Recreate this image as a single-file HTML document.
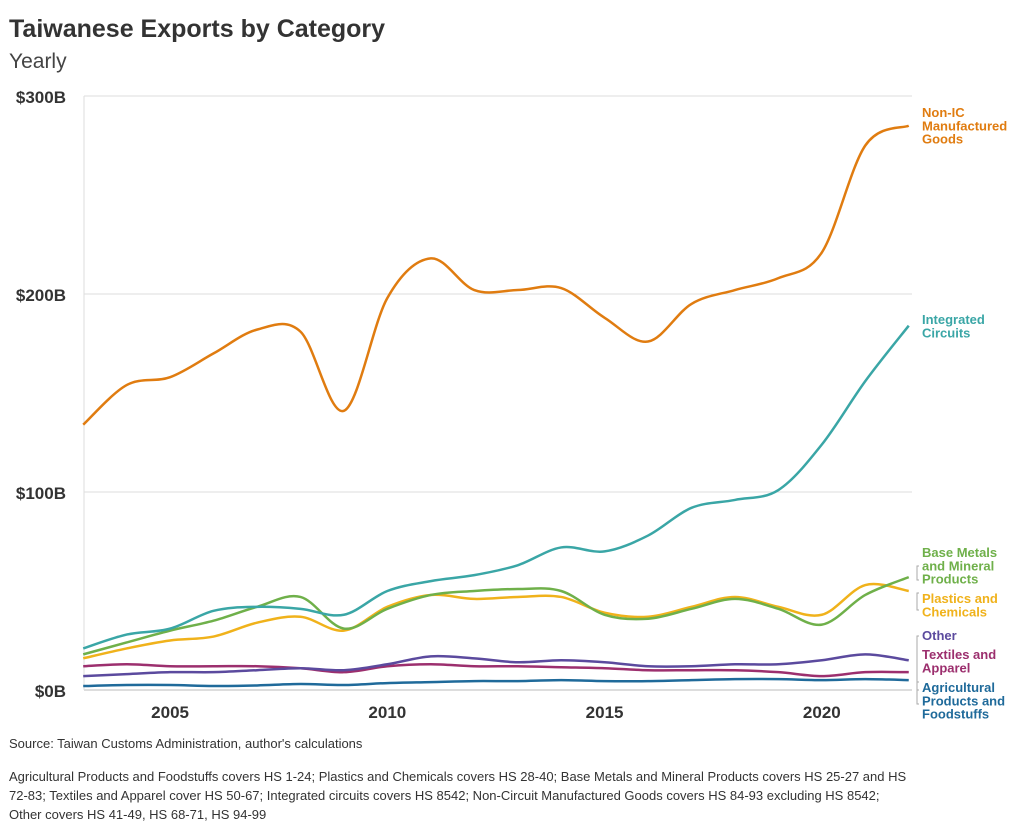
<!DOCTYPE html>
<html><head><meta charset="utf-8"><style>
body{margin:0;background:#fff;font-family:"Liberation Sans",sans-serif;}
svg text{font-family:"Liberation Sans",sans-serif;}
</style></head><body>
<svg id="c" width="1024" height="832" xmlns="http://www.w3.org/2000/svg">
<text x="9" y="37" font-size="25" font-weight="bold" fill="#333">Taiwanese Exports by Category</text>
<text x="9" y="68" font-size="21" fill="#444">Yearly</text>
<g id="grid"></g><g id="lines"></g><g id="labels"></g>
<text x="9" y="748" font-size="13" fill="#333">Source: Taiwan Customs Administration, author's calculations</text>
<text font-size="13" fill="#333"><tspan x="9" y="781">Agricultural Products and Foodstuffs covers HS 1-24; Plastics and Chemicals covers HS 28-40; Base Metals and Mineral Products covers HS 25-27 and HS</tspan><tspan x="9" y="800">72-83; Textiles and Apparel cover HS 50-67; Integrated circuits covers HS 8542; Non-Circuit Manufactured Goods covers HS 84-93 excluding HS 8542;</tspan><tspan x="9" y="819">Other covers HS 41-49, HS 68-71, HS 94-99</tspan></text>
</svg>
<script>
const years=[2003,2004,2005,2006,2007,2008,2009,2010,2011,2012,2013,2014,2015,2016,2017,2018,2019,2020,2021,2022];
const yTicks=[0,100,200,300];
const yTickLabels=["$0B","$100B","$200B","$300B"];
const xTicks=[2005,2010,2015,2020];
const nonIC=[134,154,158,170,182,181,141,198,218,202,202,203,188,176,195,202,208,221,275,285];
const ic=[21,28,31,40,42,41,38,50,55,58,63,72,70,78,92,96,101,124,156,184];
const baseMetals=[18,24,30,35,42,47,31,41,48,50,51,50,38,36,41,46,41,33,48,57];
const plastics=[16,21,25,27,34,37,30,42,48,46,47,47,39,37,42,47,42,38,53,50];
const other=[7,8,9,9,10,11,10,13,17,16,14,15,14,12,12,13,13,15,18,15];
const textiles=[12,13,12,12,12,11,9,12,13,12,12,11.5,11,10,10,10,9,7,9,9];
const agri=[2,2.5,2.5,2,2.3,3,2.5,3.5,4,4.5,4.5,5,4.5,4.5,5,5.5,5.5,5,5.5,5];
const NS="http://www.w3.org/2000/svg";
const X=y=>83.2+(y-2003)*43.45, Y=v=>690-v*1.98;
function mk(t,a,p){const e=document.createElementNS(NS,t);for(const k in a)e.setAttribute(k,a[k]);p.appendChild(e);return e;}
const g=document.getElementById('grid');
yTicks.forEach((v,i)=>{
 const l=mk('line',{x1:84,x2:912,y1:Y(v),y2:Y(v),stroke:v===0?'#bbb':'#ddd','stroke-width':1},g);
 
 
 const t=mk('text',{x:66,y:Y(v)+7,'text-anchor':'end','font-size':17,'font-weight':'bold',fill:'#333'},g);
 t.textContent=yTickLabels[i];
 
 
});
const ax=mk('line',{x1:84,x2:84,y1:96,y2:690,stroke:'#ddd'},g);


xTicks.forEach(v=>{
 const t=mk('text',{x:X(v),y:718,'text-anchor':'middle','font-size':17,'font-weight':'bold',fill:'#333'},g);
 t.textContent=v;
 
 
});
function path(vals){
 const p=vals.map((v,i)=>[X(years[i]),Y(v)]);
 let d='M'+p[0][0]+','+p[0][1];
 for(let i=0;i<p.length-1;i++){
  const p0=p[i-1]||p[i],p1=p[i],p2=p[i+1],p3=p[i+2]||p[i+1];
  const c1=[p1[0]+(p2[0]-p0[0])/6,p1[1]+(p2[1]-p0[1])/6],c2=[p2[0]-(p3[0]-p1[0])/6,p2[1]-(p3[1]-p1[1])/6];
  d+=`C${c1[0]},${c1[1]} ${c2[0]},${c2[1]} ${p2[0]},${p2[1]}`;
 }
 return d;
}
const L=document.getElementById('lines');
const series=[[agri,'#1f6a9a','agri'],[textiles,'#9c2f6e','textiles'],[other,'#5b4a9e','other'],[plastics,'#f0b21b','plastics'],[baseMetals,'#6fb04a','base-metals'],[ic,'#3aa6a6','integrated-circuits'],[nonIC,'#e07c10','non-ic']];
series.forEach(s=>{
 const e=mk('path',{d:path(s[0]),fill:'none',stroke:s[1],'stroke-width':2.5},L);
 
 
});
const lab=document.getElementById('labels');
const labels=[[['Non-IC','Manufactured','Goods'],117,'#e07c10'],[['Integrated','Circuits'],324,'#3aa6a6'],[['Base Metals','and Mineral','Products'],557,'#6fb04a'],[['Plastics and','Chemicals'],603,'#f0b21b'],[['Other'],640,'#5b4a9e'],[['Textiles and','Apparel'],659,'#9c2f6e'],[['Agricultural','Products and','Foodstuffs'],692,'#1f6a9a']];
labels.forEach(l=>{
 const t=mk('text',{x:922,'font-size':13,'font-weight':'bold',fill:l[2]},lab);
 l[0].forEach((s,i)=>{const ts=mk('tspan',{x:922,y:l[1]+i*13.3},t);ts.textContent=s;});
 
 
});
[[566,580],[593,610],[636,690],[682,704]].forEach(b=>{
 const e=mk('path',{d:`M919,${b[0]}H917V${b[1]}H919`,fill:'none',stroke:'#aaa'},lab);
 
 
});
</script>
</body></html>
